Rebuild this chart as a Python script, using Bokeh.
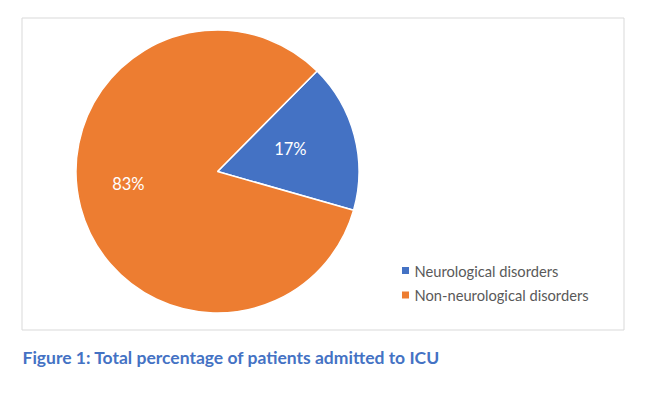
import math
from bokeh.plotting import figure
from bokeh.models import Range1d, ColumnDataSource, Label
from bokeh.embed import file_html
from bokeh.resources import INLINE
from bokeh.core.properties import value

# ---- data ----
categories = ["Neurological disorders", "Non-neurological disorders"]
percentages = [17, 83]
colors = ["#4472C4", "#ED7D31"]
caption = "Figure 1: Total percentage of patients admitted to ICU"

# ---- layout (page pixels, y measured upward from page bottom) ----
W, H = 664, 391
PAGE_H = 399
OFF = 0  # figure origin on page
def Y(ypage):
    return PAGE_H - ypage

p = figure(width=W, height=H, output_backend="svg", toolbar_location=None,
           x_range=Range1d(OFF, OFF + W), y_range=Range1d(Y(OFF + H), Y(OFF)),
           min_border=0, outline_line_color=None)
p.axis.visible = False
p.grid.visible = False
p.background_fill_color = "white"

# chart frame
p.quad(left=[21.5], right=[623.5], bottom=[Y(329.5)], top=[Y(17.5)],
       fill_color=None, line_color="#D9D9D9", line_width=1)

# pie
cx, cy, R = 217, Y(171), 141.5
first_angle = math.radians(45.3)
total = sum(percentages)
starts, ends, mids = [], [], []
a = first_angle
for v in percentages:
    span = 2 * math.pi * v / total
    starts.append(a - span)
    ends.append(a)
    mids.append(a - span / 2)
    a -= span
src = ColumnDataSource(dict(start=starts, end=ends, color=colors))
p.wedge(x=cx, y=cy, radius=R, start_angle="start", end_angle="end",
        fill_color="color", line_color="white", line_width=1.5, source=src)

# data labels
label_r = [0.54, 0.636]
mid_shift = [0.049, -0.115]
lx = [cx + R * f * math.cos(m + s) for f, m, s in zip(label_r, mids, mid_shift)]
ly = [cy + R * f * math.sin(m + s) for f, m, s in zip(label_r, mids, mid_shift)]
lt = [f"{v}%" for v in percentages]
p.text(x=lx, y=ly, text=lt, text_color="white", text_font=value("Lato"),
       text_font_size="16.5px", text_align="center", text_baseline="middle")

# legend
leg_x, leg_y0, leg_dy = 405, 270, 24.5
ly2 = [Y(leg_y0 + i * leg_dy) for i in range(len(categories))]
p.rect(x=[leg_x] * len(categories), y=ly2, width=7, height=7,
       fill_color=colors, line_color=None)
p.text(x=[leg_x + 9] * len(categories), y=ly2, text=categories,
       text_color="#595959", text_font=value("Lato"), text_font_size="14.7px",
       text_baseline="middle")

# caption
p.add_layout(Label(x=22, y=Y(357), text=caption, text_color="#4472C4",
                   text_font="Lato", text_font_style="bold",
                   text_font_size="17.5px", text_baseline="middle"))

open("out.html", "w").write(file_html(p, INLINE))
